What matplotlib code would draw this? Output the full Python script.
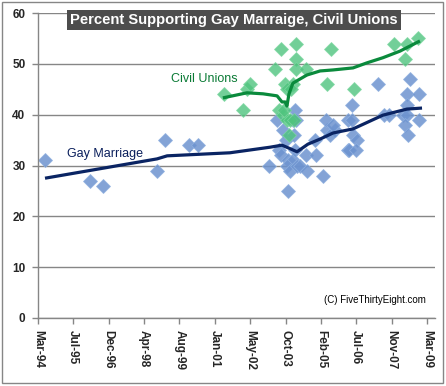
import numpy as np
import matplotlib
matplotlib.use('Agg')
import matplotlib.pyplot as plt
from matplotlib.patches import Rectangle

plt.rcParams['font.family'] = ['Liberation Sans', 'DejaVu Sans']

# poll results, x in decimal years
gm_year = [1994.44, 1996.18, 1996.68, 1998.76, 1999.07, 1999.99, 2000.34,
           2003.39, 2003.62, 2003.73, 2003.46, 2003.54, 2003.08, 2003.81,
           2004.00, 2003.77, 2003.89, 2004.16, 2003.81, 2004.04, 2004.00,
           2004.08, 2004.51, 2004.89, 2004.27, 2004.54, 2005.16, 2004.85,
           2005.32, 2005.62, 2005.43, 2006.13, 2006.32, 2006.47, 2006.16,
           2006.43, 2006.28, 2005.28, 2005.55, 2006.13, 2006.28, 2007.28,
           2008.52, 2008.40, 2008.86, 2008.40, 2007.51, 2007.71, 2008.25,
           2008.40, 2008.86, 2008.32, 2008.44, 2004.08, 2004.12]
gm_pct = [31, 27, 26, 29, 35, 34, 34,
          39, 37, 35, 33, 32, 30, 31,
          31, 30, 29, 30, 25, 36, 39,
          33, 32, 32, 30, 29, 28, 35,
          37, 37, 36, 33, 36, 35, 33,
          33, 42, 39, 38, 39, 39, 46,
          47, 44, 44, 42, 40, 40, 40,
          40, 39, 38, 36, 41, 39]

cu_year = [2001.34, 2002.23, 2002.35, 2002.08, 2003.54, 2003.31, 2004.12,
           2004.12, 2004.12, 2004.51, 2003.70, 2004.00, 2003.77, 2003.93,
           2005.47, 2005.32, 2006.36, 2007.90, 2008.40, 2008.82, 2008.32,
           2003.46, 2003.62, 2003.77, 2003.85, 2003.66, 2003.89, 2004.04]
cu_pct = [44, 45, 46, 41, 53, 49, 54,
          51, 49, 49, 46, 46, 45, 45,
          53, 46, 45, 54, 54, 55, 51,
          41, 40, 39, 36, 41, 39, 39]

# trend lines
gm_trend_year = [1994.44, 1998.76, 1999.15, 2001.57, 2003.12, 2003.58, 2003.85,
                 2004.16, 2004.58, 2005.05, 2005.55, 2006.32, 2007.47, 2008.40, 2008.98]
gm_trend_pct = [27.5, 31.3, 31.9, 32.5, 33.6, 34.0, 33.4,
                32.7, 34.2, 35.2, 36.4, 37.2, 39.9, 41.1, 41.3]

cu_trend_year = [2001.30, 2002.23, 2002.85, 2003.39, 2003.58, 2003.70, 2003.77,
                 2003.85, 2004.00, 2004.27, 2004.54, 2005.05, 2005.55, 2006.32,
                 2006.86, 2007.47, 2008.13, 2008.90]
cu_trend_pct = [43.3, 44.3, 44.1, 43.7, 42.5, 42.5, 41.7,
                44.1, 46.2, 47.0, 47.8, 48.6, 48.8, 49.2,
                50.2, 51.2, 52.5, 54.5]

tick_labels = ['Mar-94', 'Jul-95', 'Dec-96', 'Apr-98', 'Aug-99', 'Jan-01',
               'May-02', 'Oct-03', 'Feb-05', 'Jul-06', 'Nov-07', 'Mar-09']
x_start, x_end = 1994.17, 2009.17

fig = plt.figure(figsize=(4.46, 3.86), dpi=100)
fig.patches.append(Rectangle((2 / 446, 3 / 386), 441 / 446, 381 / 386,
                             transform=fig.transFigure, fill=False,
                             edgecolor='#868686', linewidth=1))
ax = fig.add_axes([38 / 446, 68 / 386, 397 / 446, 305 / 386])

grid_c = '#868686'
ax.set_ylim(0, 60)
ax.set_xlim(x_start, x_start + 397 / 25.93)
ax.set_yticks(range(0, 61, 10))
ax.set_xticks(np.linspace(x_start, x_end, len(tick_labels)))
ax.set_xticklabels(tick_labels, rotation=270, fontweight='bold', fontsize=8.5,
                   color='#262626')
ax.set_yticklabels([str(v) for v in range(0, 61, 10)], fontweight='bold',
                   fontsize=8.5, color='#262626')
ax.yaxis.grid(True, color=grid_c, linewidth=1)
ax.set_axisbelow(True)
for s in ['top', 'right']:
    ax.spines[s].set_visible(False)
for s in ['left', 'bottom']:
    ax.spines[s].set_color(grid_c)
    ax.spines[s].set_linewidth(1)
ax.tick_params(axis='both', color=grid_c, length=4, width=1)
ax.tick_params(axis='y', pad=5)
ax.tick_params(axis='x', pad=5)

ax.plot(gm_year, gm_pct, 'D', ms=7, color='#6d93cf', mec='#8fb0e0',
        mew=0.6, alpha=0.85, linestyle='none')
ax.plot(cu_year, cu_pct, 'D', ms=7, color='#4fc47e', mec='#7fd8a2',
        mew=0.6, alpha=0.8, linestyle='none')
ax.plot(gm_trend_year, gm_trend_pct, color='#0a2463', linewidth=2.3,
        solid_capstyle='butt')
ax.plot(cu_trend_year, cu_trend_pct, color='#0a8a3c', linewidth=2.3,
        solid_capstyle='butt')

ax.text(0.494, 0.977, 'Percent Supporting Gay Marraige, Civil Unions',
        transform=ax.transAxes, ha='center', va='center', color='white',
        fontweight='bold', fontsize=10.6,
        bbox=dict(boxstyle='square,pad=0.22', facecolor='#4d4d4d',
                  edgecolor='none'))
ax.text(0.335, 0.784, 'Civil Unions', transform=ax.transAxes, ha='left',
        va='center', color='#0a7a35', fontsize=9)
ax.text(0.073, 0.538, 'Gay Marriage', transform=ax.transAxes, ha='left',
        va='center', color='#0a1f5c', fontsize=9)
ax.text(0.977, 0.059, '(C) FiveThirtyEight.com', transform=ax.transAxes,
        ha='right', va='center', color='black', fontsize=7)

fig.savefig('out.png', dpi=100)
